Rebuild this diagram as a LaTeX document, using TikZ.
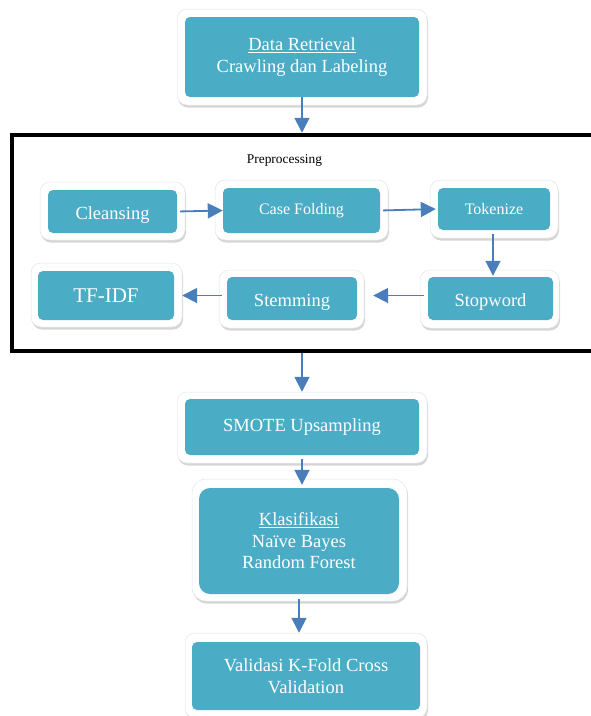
\documentclass[tikz,border=0pt]{standalone}
\usepackage{fontspec}
\setmainfont{Liberation Serif}
\usetikzlibrary{arrows.meta,shadows}
\definecolor{teal}{HTML}{4BACC6}
\definecolor{arrowblue}{HTML}{4A7EBB}
\tikzset{
  outerbox/.style={draw=black!10,line width=0.5pt,fill=white,rounded corners=10pt,inner sep=0pt,
    drop shadow={shadow xshift=1pt,shadow yshift=-2.5pt,opacity=0.3,fill=black!55}},
  innerbox/.style={fill=teal,rounded corners=5pt,inner sep=0pt,text=white,align=center},
  flow/.style={draw=arrowblue,line width=1.8pt,-{Triangle[length=15pt,width=15pt]}},
}
\newcommand{\lowtext}[1]{\raisebox{-4pt}[\height][\depth]{#1}}
\begin{document}
\begin{tikzpicture}[x=1pt,y=-1pt]
\useasboundingbox (0,0) rectangle (590,716);
% frame
\node[draw=black,line width=4.5pt,minimum width=588pt,minimum height=216pt,inner sep=0pt] (frame) at (306,243) {};
\node[anchor=base,font=\fontsize{13.4}{15}\selectfont] (pre) at (284.5,163) {Preprocessing};
% data retrieval
\node[outerbox,minimum width=250pt,minimum height=96pt] (data-o) at (302,57) {};
\node[innerbox,minimum width=234pt,minimum height=80pt,font=\fontsize{18.5}{22}\selectfont] (data) at (302,57) {\underline{Data Retrieval}\\Crawling dan Labeling};
% row 1
\node[outerbox,minimum width=145pt,minimum height=58pt] (clean-o) at (112.5,211) {};
\node[innerbox,minimum width=129pt,minimum height=43pt,font=\fontsize{18.5}{22}\selectfont] (clean) at (112.5,211.5) {\lowtext{Cleansing}};
\node[outerbox,minimum width=173pt,minimum height=60pt] (case-o) at (301.5,210) {};
\node[innerbox,minimum width=157pt,minimum height=45pt,font=\fontsize{16}{19}\selectfont] (case) at (301.5,210.5) {Case Folding};
\node[outerbox,minimum width=128pt,minimum height=58pt] (tok-o) at (494,209) {};
\node[innerbox,minimum width=112pt,minimum height=42pt,font=\fontsize{16}{19}\selectfont] (tok) at (494,209) {Tokenize};
% row 2
\node[outerbox,minimum width=139pt,minimum height=58pt] (stop-o) at (489.5,299) {};
\node[innerbox,minimum width=125pt,minimum height=43pt,font=\fontsize{18.5}{22}\selectfont] (stop) at (490.5,298.5) {\lowtext{Stopword}};
\node[outerbox,minimum width=145pt,minimum height=58pt] (stem-o) at (291.5,299) {};
\node[innerbox,minimum width=130pt,minimum height=43pt,font=\fontsize{18.5}{22}\selectfont] (stem) at (292,298.5) {\lowtext{Stemming}};
\node[outerbox,minimum width=151pt,minimum height=64pt] (tfidf-o) at (106.5,295) {};
\node[innerbox,minimum width=136pt,minimum height=49pt,font=\fontsize{21}{24}\selectfont] (tfidf) at (106,295.5) {TF-IDF};
% lower
\node[outerbox,minimum width=250pt,minimum height=71pt] (smote-o) at (302,427.5) {};
\node[innerbox,minimum width=234pt,minimum height=56pt,font=\fontsize{18.5}{22}\selectfont] (smote) at (302,427) {SMOTE Upsampling};
\node[outerbox,minimum width=215pt,minimum height=122pt,rounded corners=14pt] (klas-o) at (299.5,540) {};
\node[innerbox,minimum width=200pt,minimum height=106pt,rounded corners=11pt,font=\fontsize{18.5}{21.5}\selectfont] (klas) at (299,541) {\underline{Klasifikasi}\\Naïve Bayes\\Random Forest};
\node[outerbox,minimum width=242pt,minimum height=85pt] (valid-o) at (306,675.5) {};
\node[innerbox,minimum width=228pt,minimum height=68pt,font=\fontsize{18.5}{21.5}\selectfont] (valid) at (306,676) {Validasi K-Fold Cross\\Validation};
% arrows
\draw[flow] (data.south) -- (data.south |- frame.north);
\draw[flow,shorten <=3pt] (clean.east) -- (case.west);
\draw[flow,shorten <=3pt,shorten >=2pt] (case.east) -- (tok.west);
\draw[flow,shorten <=4pt,shorten >=1pt] ([xshift=-1pt]tok.south) -- ([xshift=-1pt]tok.south |- stop.north);
\draw[flow,shorten <=4pt,shorten >=16pt] ([yshift=3pt]stop.west) -- ([yshift=3pt]stop.west -| stem.east);
\draw[flow,shorten <=5pt,shorten >=8pt] ([yshift=3pt]stem.west) -- ([yshift=3pt]stem.west -| tfidf.east);
\draw[flow] (frame.south -| smote-o.north) -- (smote-o.north);
\draw[flow,shorten <=4pt,shorten >=3pt] (smote.south) -- (smote.south |- klas.north);
\draw[flow,shorten <=5pt] (klas.south) -- (klas.south |- valid-o.north);
\end{tikzpicture}
\end{document}
